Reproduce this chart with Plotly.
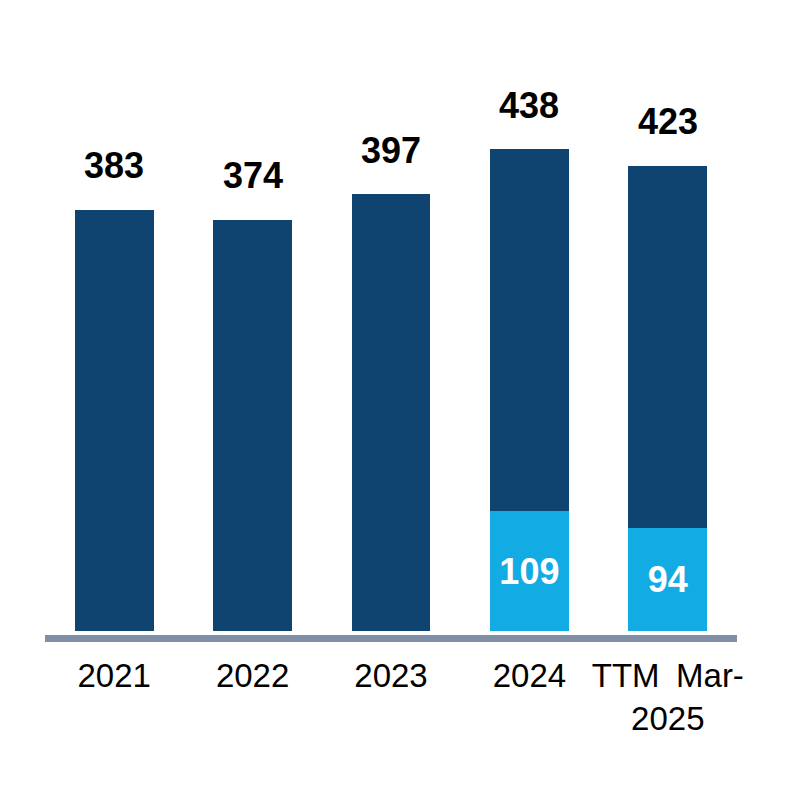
import plotly.graph_objects as go

# data
categories = ["2021", "2022", "2023", "2024", "TTM\u2002Mar-<br>2025"]
totals = [383, 374, 397, 438, 423]
light_part = [None, None, None, 109, 94]
dark_part = [383, 374, 397, 329, 329]

dark_blue = "#0f4470"
light_blue = "#13abe3"
axis_grey = "#7f8fa5"
font_family = "Liberation Sans, Arial, sans-serif"

fig = go.Figure()

fig.add_trace(go.Bar(
    x=categories, y=light_part,
    marker=dict(color=light_blue, line=dict(width=0)),
    text=[str(v) if v is not None else "" for v in light_part],
    textposition="inside", insidetextanchor="middle", textangle=0,
    textfont=dict(family=font_family, size=36, color="white", weight="bold"),
    hoverinfo="skip",
))
fig.add_trace(go.Bar(
    x=categories, y=dark_part,
    marker=dict(color=dark_blue, line=dict(width=0)),
    hoverinfo="skip",
))

# total labels above the stacks (category index as x)
for i, tot in enumerate(totals):
    fig.add_annotation(
        x=i, y=tot, text="<b>%d</b>" % tot, showarrow=False,
        yanchor="middle", yshift=44,
        font=dict(family=font_family, size=36, color="black"),
    )

# page body adds 8px, margins compensate
fig.update_layout(
    barmode="stack",
    bargap=0.43,
    showlegend=False,
    width=800, height=800,
    margin=dict(l=37, r=71, t=42, b=172.5),
    plot_bgcolor="white",
    paper_bgcolor="white",
)
fig.update_xaxes(
    type="category", range=[-0.5, 4.5],
    showline=True, linecolor=axis_grey, linewidth=7,
    showgrid=False, ticks="", ticklabelstandoff=5,
    tickfont=dict(family=font_family, size=33, color="black"),
)
fig.update_yaxes(
    range=[-3.2, 528.1], visible=False, showgrid=False, zeroline=False,
)

fig.write_html("out.html")
